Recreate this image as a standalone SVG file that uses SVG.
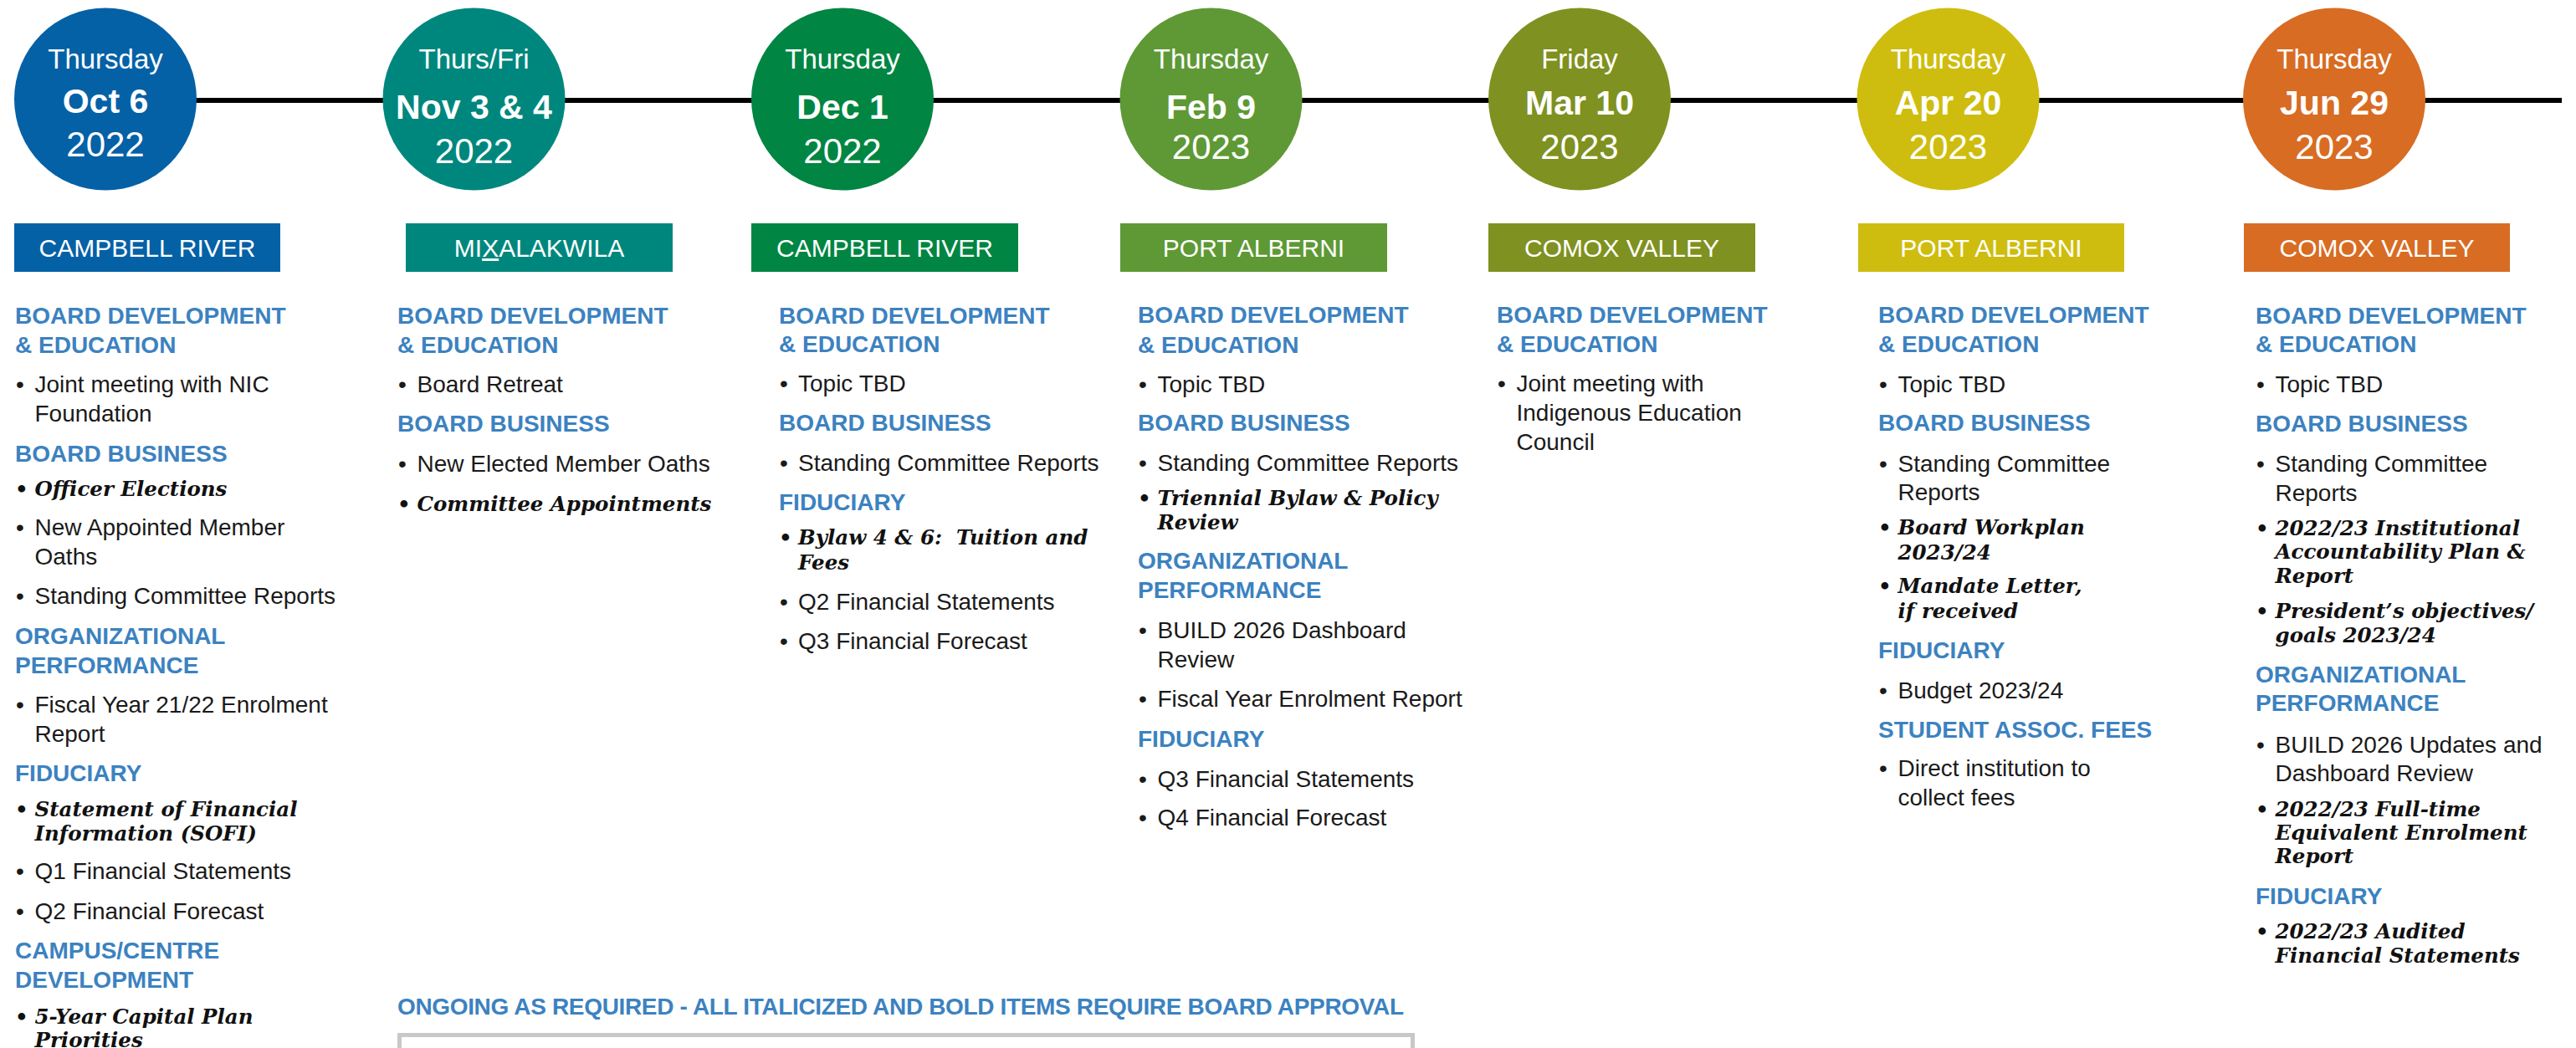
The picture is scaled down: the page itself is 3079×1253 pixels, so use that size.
<svg xmlns="http://www.w3.org/2000/svg" width="3079" height="1253" viewBox="0 0 3079 1253">
<style>
.day{font-family:"Liberation Sans",Arial,sans-serif;font-size:33px;fill:#fff;text-anchor:middle}
.date{font-family:"Liberation Sans",Arial,sans-serif;font-size:41px;font-weight:bold;fill:#fff;text-anchor:middle}
.year{font-family:"Liberation Sans",Arial,sans-serif;font-size:42px;fill:#fff;text-anchor:middle}
.loc{font-family:"Liberation Sans",Arial,sans-serif;font-size:30px;fill:#fff;text-anchor:middle}
.h{font-family:"Liberation Sans",Arial,sans-serif;font-size:28px;font-weight:bold;fill:#3C82C0}
.t{font-family:"Liberation Sans",Arial,sans-serif;font-size:28px;fill:#1a1a1a}
.b{font-family:"DejaVu Serif","Liberation Serif",serif;font-size:24.5px;font-weight:bold;font-style:italic;fill:#111}
.bb{font-family:"DejaVu Serif","Liberation Serif",serif;font-size:24.5px;font-weight:bold;fill:#111}
.line{stroke:#000;stroke-width:6;fill:none}
</style>
<rect width="3079" height="1253" fill="#fff"/>
<g id="connectors">
<line class="line" x1="126" y1="120" x2="3062" y2="120"/>
</g>
<g id="date-oct6"><circle cx="126" cy="118.5" r="109" fill="#0561A6"/>
<text class="day" x="126" y="82">Thursday</text><text class="date" x="126" y="135">Oct 6</text><text class="year" x="126" y="187">2022</text></g>
<g id="date-nov3"><circle cx="566.5" cy="118.5" r="109" fill="#00877D"/>
<text class="day" x="566.5" y="82">Thurs/Fri</text><text class="date" x="566.5" y="142">Nov 3 &amp; 4</text><text class="year" x="566.5" y="195">2022</text></g>
<g id="date-dec1"><circle cx="1007" cy="118.5" r="109" fill="#008542"/>
<text class="day" x="1007" y="82">Thursday</text><text class="date" x="1007" y="142">Dec 1</text><text class="year" x="1007" y="195">2022</text></g>
<g id="date-feb9"><circle cx="1447.5" cy="118.5" r="109" fill="#5E9935"/>
<text class="day" x="1447.5" y="82">Thursday</text><text class="date" x="1447.5" y="142">Feb 9</text><text class="year" x="1447.5" y="190">2023</text></g>
<g id="date-mar10"><circle cx="1888" cy="118.5" r="109" fill="#7F9120"/>
<text class="day" x="1888" y="82">Friday</text><text class="date" x="1888" y="137">Mar 10</text><text class="year" x="1888" y="190">2023</text></g>
<g id="date-apr20"><circle cx="2328.5" cy="118.5" r="109" fill="#CEBD0E"/>
<text class="day" x="2328.5" y="82">Thursday</text><text class="date" x="2328.5" y="137">Apr 20</text><text class="year" x="2328.5" y="190">2023</text></g>
<g id="date-jun29"><circle cx="2790" cy="118.5" r="109" fill="#D86C23"/>
<text class="day" x="2790" y="82">Thursday</text><text class="date" x="2790" y="137">Jun 29</text><text class="year" x="2790" y="190">2023</text></g>

<g id="loc-1"><rect x="17" y="267" width="318" height="58" fill="#0561A6"/><text class="loc" x="176" y="307">CAMPBELL RIVER</text></g>
<g id="loc-2"><rect x="485" y="267" width="319" height="58" fill="#00877D"/><text class="loc" x="644.5" y="307">MI<tspan text-decoration="underline">X</tspan>ALAKWILA</text></g>
<g id="loc-3"><rect x="898" y="267" width="319" height="58" fill="#008542"/><text class="loc" x="1057.5" y="307">CAMPBELL RIVER</text></g>
<g id="loc-4"><rect x="1339" y="267" width="319" height="58" fill="#5E9935"/><text class="loc" x="1498.5" y="307">PORT ALBERNI</text></g>
<g id="loc-5"><rect x="1779" y="267" width="319" height="58" fill="#7F9120"/><text class="loc" x="1938.5" y="307">COMOX VALLEY</text></g>
<g id="loc-6"><rect x="2221" y="267" width="318" height="58" fill="#CEBD0E"/><text class="loc" x="2380" y="307">PORT ALBERNI</text></g>
<g id="loc-7"><rect x="2682" y="267" width="318" height="58" fill="#D86C23"/><text class="loc" x="2841" y="307">COMOX VALLEY</text></g>

<g id="col-1">
<text class="h" x="18" y="387">BOARD DEVELOPMENT</text>
<text class="h" x="18" y="422">&amp; EDUCATION</text>
<text class="t" x="19" y="469">•</text><text class="t" x="41.5" y="469">Joint meeting with NIC</text>
<text class="t" x="41.5" y="504">Foundation</text>
<text class="h" x="18" y="552">BOARD BUSINESS</text>
<text class="bb" x="18" y="593">•</text><text class="b" x="41.5" y="593">Officer Elections</text>
<text class="t" x="19" y="640">•</text><text class="t" x="41.5" y="640">New Appointed Member</text>
<text class="t" x="41.5" y="675">Oaths</text>
<text class="t" x="19" y="722">•</text><text class="t" x="41.5" y="722">Standing Committee Reports</text>
<text class="h" x="18" y="770">ORGANIZATIONAL</text>
<text class="h" x="18" y="805">PERFORMANCE</text>
<text class="t" x="19" y="852">•</text><text class="t" x="41.5" y="852">Fiscal Year 21/22 Enrolment</text>
<text class="t" x="41.5" y="887">Report</text>
<text class="h" x="18" y="934">FIDUCIARY</text>
<text class="bb" x="18" y="976">•</text><text class="b" x="41.5" y="976">Statement of Financial</text>
<text class="b" x="41.5" y="1005">Information (SOFI)</text>
<text class="t" x="19" y="1051">•</text><text class="t" x="41.5" y="1051">Q1 Financial Statements</text>
<text class="t" x="19" y="1099">•</text><text class="t" x="41.5" y="1099">Q2 Financial Forecast</text>
<text class="h" x="18" y="1146">CAMPUS/CENTRE</text>
<text class="h" x="18" y="1181">DEVELOPMENT</text>
<text class="bb" x="18" y="1224">•</text><text class="b" x="41.5" y="1224">5-Year Capital Plan</text>
<text class="b" x="41.5" y="1252">Priorities</text>
</g>

<g id="col-2">
<text class="h" x="475" y="387">BOARD DEVELOPMENT</text>
<text class="h" x="475" y="422">&amp; EDUCATION</text>
<text class="t" x="476" y="469">•</text><text class="t" x="498.5" y="469">Board Retreat</text>
<text class="h" x="475" y="516">BOARD BUSINESS</text>
<text class="t" x="476" y="564">•</text><text class="t" x="498.5" y="564">New Elected Member Oaths</text>
<text class="bb" x="475" y="611">•</text><text class="b" x="498.5" y="611">Committee Appointments</text>
</g>

<g id="col-3">
<text class="h" x="931" y="387">BOARD DEVELOPMENT</text>
<text class="h" x="931" y="421">&amp; EDUCATION</text>
<text class="t" x="932" y="468">•</text><text class="t" x="954" y="468">Topic TBD</text>
<text class="h" x="931" y="515">BOARD BUSINESS</text>
<text class="t" x="932" y="563">•</text><text class="t" x="954" y="563">Standing Committee Reports</text>
<text class="h" x="931" y="610">FIDUCIARY</text>
<text class="bb" x="931" y="651">•</text><text class="b" x="954" y="651">Bylaw 4 &amp; 6:&#160; Tuition and</text>
<text class="b" x="954" y="681">Fees</text>
<text class="t" x="932" y="729">•</text><text class="t" x="954" y="729">Q2 Financial Statements</text>
<text class="t" x="932" y="776">•</text><text class="t" x="954" y="776">Q3 Financial Forecast</text>
</g>

<g id="col-4">
<text class="h" x="1360" y="386">BOARD DEVELOPMENT</text>
<text class="h" x="1360" y="421.5">&amp; EDUCATION</text>
<text class="t" x="1361" y="469">•</text><text class="t" x="1383.5" y="469">Topic TBD</text>
<text class="h" x="1360" y="515">BOARD BUSINESS</text>
<text class="t" x="1361" y="563">•</text><text class="t" x="1383.5" y="563">Standing Committee Reports</text>
<text class="bb" x="1360" y="604">•</text><text class="b" x="1383.5" y="604">Triennial Bylaw &amp; Policy</text>
<text class="b" x="1383.5" y="633">Review</text>
<text class="h" x="1360" y="680">ORGANIZATIONAL</text>
<text class="h" x="1360" y="715">PERFORMANCE</text>
<text class="t" x="1361" y="763">•</text><text class="t" x="1383.5" y="763">BUILD 2026 Dashboard</text>
<text class="t" x="1383.5" y="798">Review</text>
<text class="t" x="1361" y="845">•</text><text class="t" x="1383.5" y="845">Fiscal Year Enrolment Report</text>
<text class="h" x="1360" y="893">FIDUCIARY</text>
<text class="t" x="1361" y="941">•</text><text class="t" x="1383.5" y="941">Q3 Financial Statements</text>
<text class="t" x="1361" y="987">•</text><text class="t" x="1383.5" y="987">Q4 Financial Forecast</text>
</g>

<g id="col-5">
<text class="h" x="1789" y="386">BOARD DEVELOPMENT</text>
<text class="h" x="1789" y="421">&amp; EDUCATION</text>
<text class="t" x="1790" y="468">•</text><text class="t" x="1812.5" y="468">Joint meeting with</text>
<text class="t" x="1812.5" y="503">Indigenous Education</text>
<text class="t" x="1812.5" y="538">Council</text>
</g>

<g id="col-6">
<text class="h" x="2245" y="386">BOARD DEVELOPMENT</text>
<text class="h" x="2245" y="421">&amp; EDUCATION</text>
<text class="t" x="2246" y="469">•</text><text class="t" x="2268.5" y="469">Topic TBD</text>
<text class="h" x="2245" y="515">BOARD BUSINESS</text>
<text class="t" x="2246" y="564">•</text><text class="t" x="2268.5" y="564">Standing Committee</text>
<text class="t" x="2268.5" y="598">Reports</text>
<text class="bb" x="2245" y="639">•</text><text class="b" x="2268.5" y="639">Board Workplan</text>
<text class="b" x="2268.5" y="669">2023/24</text>
<text class="bb" x="2245" y="709">•</text><text class="b" x="2268.5" y="709">Mandate Letter,</text>
<text class="b" x="2268.5" y="739">if received</text>
<text class="h" x="2245" y="787">FIDUCIARY</text>
<text class="t" x="2246" y="835">•</text><text class="t" x="2268.5" y="835">Budget 2023/24</text>
<text class="h" x="2245" y="882">STUDENT ASSOC. FEES</text>
<text class="t" x="2246" y="928">•</text><text class="t" x="2268.5" y="928">Direct institution to</text>
<text class="t" x="2268.5" y="963">collect fees</text>
</g>

<g id="col-7">
<text class="h" x="2696" y="387">BOARD DEVELOPMENT</text>
<text class="h" x="2696" y="421">&amp; EDUCATION</text>
<text class="t" x="2697" y="468.5">•</text><text class="t" x="2719.5" y="468.5">Topic TBD</text>
<text class="h" x="2696" y="516">BOARD BUSINESS</text>
<text class="t" x="2697" y="564">•</text><text class="t" x="2719.5" y="564">Standing Committee</text>
<text class="t" x="2719.5" y="599">Reports</text>
<text class="bb" x="2696" y="640">•</text><text class="b" x="2719.5" y="640">2022/23 Institutional</text>
<text class="b" x="2719.5" y="668">Accountability Plan &amp;</text>
<text class="b" x="2719.5" y="697">Report</text>
<text class="bb" x="2696" y="739">•</text><text class="b" x="2719.5" y="739">President’s objectives/</text>
<text class="b" x="2719.5" y="768">goals 2023/24</text>
<text class="h" x="2696" y="816">ORGANIZATIONAL</text>
<text class="h" x="2696" y="850">PERFORMANCE</text>
<text class="t" x="2697" y="900">•</text><text class="t" x="2719.5" y="900">BUILD 2026 Updates and</text>
<text class="t" x="2719.5" y="934">Dashboard Review</text>
<text class="bb" x="2696" y="976">•</text><text class="b" x="2719.5" y="976">2022/23 Full-time</text>
<text class="b" x="2719.5" y="1004">Equivalent Enrolment</text>
<text class="b" x="2719.5" y="1032">Report</text>
<text class="h" x="2696" y="1081">FIDUCIARY</text>
<text class="bb" x="2696" y="1122">•</text><text class="b" x="2719.5" y="1122">2022/23 Audited</text>
<text class="b" x="2719.5" y="1151">Financial Statements</text>
</g>

<g id="ongoing">
<text class="h" x="475" y="1213" font-size="25" textLength="1203" lengthAdjust="spacing">ONGOING AS REQUIRED - ALL ITALICIZED AND BOLD ITEMS REQUIRE BOARD APPROVAL</text>
<rect x="477.5" y="1237.5" width="1211" height="100" fill="#fff" stroke="#C8C8C8" stroke-width="5"/>
</g>
</svg>
